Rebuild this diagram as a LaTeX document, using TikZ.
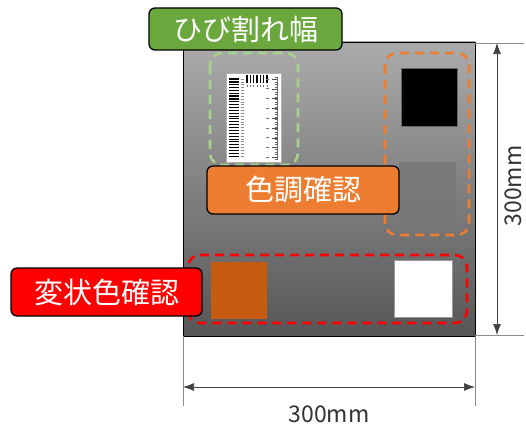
\documentclass[tikz,border=0pt]{standalone}
\usepackage{fontspec}
\newfontfamily\cjk{Noto Sans CJK JP}
\usetikzlibrary{arrows.meta}
\definecolor{gtop}{HTML}{ABABAB}
\definecolor{gbot}{HTML}{565656}
\definecolor{lblgreen}{HTML}{6AA83E}
\definecolor{lblorange}{HTML}{ED7D31}
\definecolor{lblred}{HTML}{FF0000}
\definecolor{dashgreen}{HTML}{A9D18E}
\definecolor{brown1}{HTML}{C55A11}
\definecolor{midgray}{HTML}{7A7A7A}
\tikzset{
  lbl/.style={draw=black, line width=1.3pt, rounded corners=6pt, text=white,
    font=\cjk\fontsize{29}{32}\selectfont, inner sep=0pt},
  dbox/.style={line width=2.6pt, dash pattern=on 9pt off 6pt, rounded corners=12pt},
  dimline/.style={draw=black!75, line width=0.7pt, {Latex[length=11pt,width=8pt]}-{Latex[length=11pt,width=8pt]}},
  extline/.style={draw=black!45, line width=0.6pt},
  dimtxt/.style={font=\cjk\fontsize{23}{26}\selectfont, text=black!80, inner sep=0pt}
}
\begin{document}
\begin{tikzpicture}[x=1pt,y=-1pt]
\useasboundingbox (0,0) rectangle (526,428);
% panel
\shade[top color=gtop, bottom color=gbot] (183,42) rectangle (475,336);
\node[draw=black, line width=1pt, minimum width=292pt, minimum height=294pt, inner sep=0pt, anchor=north west] (panel) at (183,42) {};
% squares
\node[fill=black, draw=black!60, line width=0.4pt, minimum width=56pt, minimum height=58pt, inner sep=0pt, anchor=north west] (blk) at (401,68) {};
\shade[top color=midgray, bottom color=midgray!90!gbot] (399,162) rectangle (456,220);
\node[minimum width=57pt, minimum height=58pt, inner sep=0pt, anchor=north west] (gry) at (399,162) {};
\node[fill=brown1, minimum width=56pt, minimum height=57pt, inner sep=0pt, anchor=north west] (brn) at (211,262) {};
\node[fill=white, draw=black!40, line width=0.5pt, minimum width=58pt, minimum height=57pt, inner sep=0pt, anchor=north west] (wht) at (394,260) {};
% ruler card
\node[fill=white, draw=black!30, line width=0.4pt, minimum width=55pt, minimum height=89pt, inner sep=0pt, anchor=north west] (card) at (226,73) {};
\foreach \i in {0,...,27}{
  \pgfmathsetmacro{\yy}{79+\i*2.85}
  \pgfmathsetmacro{\lw}{1.6-\i*0.045}
  \draw[line width=\lw pt, black] (229,\yy) -- (239,\yy);
  \draw[line width=0.5pt, black!45] (240.5,\yy) -- (244,\yy);
}
\foreach \i in {0,...,6}{
  \draw[line width=1.4pt, black] (247+\i*3.3,74.5) -- (247+\i*3.3,83);
  \draw[line width=0.6pt, black!55] (247+\i*3.3,85) -- (247+\i*3.3,87);
}
\draw[line width=0.4pt, black!60] (277,77) -- (277,160);
\foreach \i in {0,...,33}{
  \draw[line width=0.3pt, black!60] (274.5,77+\i*2.5) -- (277,77+\i*2.5);
}
\foreach \i in {0,...,8}{
  \draw[line width=0.4pt, black!70] (272,79+\i*9.8) -- (277,79+\i*9.8);
  \draw[line width=0.8pt, black!55] (266,79+\i*9.8) -- (269,79+\i*9.8);
}
% dashed boxes
\draw[dbox, draw=dashgreen] (210,53) rectangle (298,165);
\draw[dbox, draw=lblorange] (385,53) rectangle (469,235);
\draw[dbox, draw=lblred] (188,255) rectangle (467,323);
% labels
\node[lbl, fill=lblgreen, minimum width=193pt, minimum height=42pt] (lg) at (245.5,29) {ひび割れ幅};
\node[lbl, fill=lblorange, minimum width=192pt, minimum height=48pt] (lo) at (303,190) {色調確認};
\node[lbl, fill=lblred, minimum width=191pt, minimum height=48pt] (lr) at (106.5,292) {変状色確認};
% dimensions
\coordinate (tr) at (475,43);
\coordinate (br) at (475,335);
\coordinate (tre) at (524,43);
\coordinate (bre) at (524,335);
\draw[extline] (tr) -- (tre);
\draw[extline] (br) -- (bre);
\coordinate (vt) at (497,43);
\coordinate (vb) at (497,335);
\draw[dimline] (vt) -- (vb);
\node[dimtxt, rotate=90] (vtxt) at (513,186) {300mm};
\coordinate (bl) at (183,336);
\coordinate (bl2) at (183,406);
\coordinate (br3) at (475,336);
\coordinate (br4) at (475,406);
\draw[extline] (bl) -- (bl2);
\draw[extline] (br3) -- (br4);
\coordinate (hl) at (183,387);
\coordinate (hr) at (475,387);
\draw[dimline] (hl) -- (hr);
\node[dimtxt] (htxt) at (329,414) {300mm};
\end{tikzpicture}
\end{document}
